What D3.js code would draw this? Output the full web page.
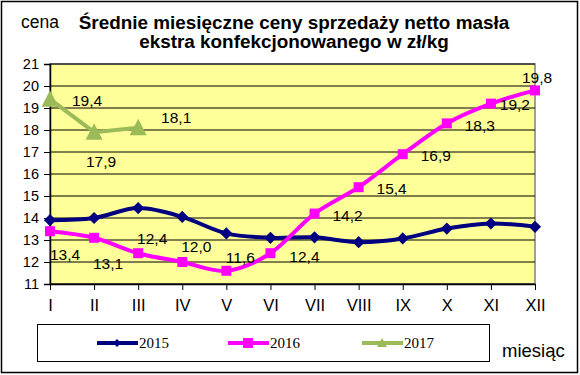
<!DOCTYPE html>
<html>
<head>
<meta charset="utf-8">
<script src="https://cdn.jsdelivr.net/npm/d3@7"></script>
<style>
  body { margin: 0; background: #fff; }
  svg { display: block; font-family: "Liberation Sans", Arial, sans-serif; }
</style>
</head>
<body>
<svg width="580" height="375"></svg>
<script>
// month categories and series values (zł/kg)
const months = ["I", "II", "III", "IV", "V", "VI", "VII", "VIII", "IX", "X", "XI", "XII"];
const values2015 = [13.9, 14.0, 14.45, 14.05, 13.3, 13.1, 13.12, 12.9, 13.07, 13.52, 13.75, 13.6];
const values2016 = [13.4, 13.1, 12.4, 12.0, 11.6, 12.4, 14.2, 15.4, 16.9, 18.3, 19.2, 19.8];
const values2017 = [19.4, 17.9, 18.1];
const labels2016 = ["13,4", "13,1", "12,4", "12,0", "11,6", "12,4", "14,2", "15,4", "16,9", "18,3", "19,2", "19,8"];
const labels2017 = ["19,4", "17,9", "18,1"];
const yTicks = [11, 12, 13, 14, 15, 16, 17, 18, 19, 20, 21];
const seriesNames = ["2015", "2016", "2017"];

window.onload = init;

function init() {
    const svg = d3.select("svg");

    // outer frame
    svg.append("rect")
        .attr("x", 1.5).attr("y", 1.5)
        .attr("width", 576).attr("height", 371)
        .attr("fill", "#fff").attr("stroke", "#000").attr("stroke-width", 1.5);

    const left = 50, right = 535, top = 64, bottom = 284;

    const x = d3.scalePoint().domain(months).range([left, right]);
    const y = d3.scaleLinear().domain([11, 21]).range([bottom, top]);

    // plot background
    svg.append("rect")
        .attr("x", left).attr("y", top)
        .attr("width", right - left).attr("height", bottom - top)
        .attr("fill", "#FFFF99")
        .attr("stroke", "#808080").attr("stroke-width", 1.5);

    // horizontal gridlines
    svg.append("g").selectAll("line")
        .data(yTicks)
        .join("line")
        .attr("x1", left).attr("x2", right)
        .attr("y1", d => y(d)).attr("y2", d => y(d))
        .attr("stroke", "#000").attr("stroke-width", 1);

    // y axis
    const yAxis = svg.append("g")
        .attr("transform", `translate(${left},0)`)
        .call(d3.axisLeft(y).tickValues(yTicks).tickSize(6).tickPadding(5));
    yAxis.select(".domain").attr("stroke", "#000").attr("stroke-width", 1.5);
    yAxis.selectAll("text").attr("font-size", "14.5px").attr("fill", "#000")
        .attr("font-family", "Liberation Sans, Arial, sans-serif");

    // x axis
    const xAxis = svg.append("g")
        .attr("transform", `translate(0,${bottom})`)
        .call(d3.axisBottom(x).tickSize(6).tickPadding(9).tickSizeOuter(0));
    xAxis.select(".domain").attr("stroke", "#000").attr("stroke-width", 1.5);
    xAxis.selectAll("text").attr("font-size", "16.5px").attr("fill", "#000")
        .attr("font-family", "Liberation Sans, Arial, sans-serif");

    const smooth = d3.line()
        .x((d, i) => x(months[i]))
        .y(d => y(d))
        .curve(d3.curveCatmullRom.alpha(0));
    const straight = d3.line()
        .x((d, i) => x(months[i]))
        .y(d => y(d));

    // 2015 series
    svg.append("path").datum(values2015)
        .attr("d", smooth).attr("fill", "none")
        .attr("stroke", "#000080").attr("stroke-width", 4);
    svg.append("g").selectAll("path")
        .data(values2015)
        .join("path")
        .attr("transform", (d, i) => `translate(${x(months[i])},${y(d)})`)
        .attr("d", d3.symbol(d3.symbolDiamond2, 95))
        .attr("fill", "#000080");

    // 2016 series
    svg.append("path").datum(values2016)
        .attr("d", smooth).attr("fill", "none")
        .attr("stroke", "#FF00FF").attr("stroke-width", 4);
    svg.append("g").selectAll("rect")
        .data(values2016)
        .join("rect")
        .attr("x", (d, i) => x(months[i]) - 5)
        .attr("y", d => y(d) - 5)
        .attr("width", 10).attr("height", 10)
        .attr("fill", "#FF00FF");

    // 2017 series
    svg.append("path").datum(values2017)
        .attr("d", straight).attr("fill", "none")
        .attr("stroke", "#9BBB59").attr("stroke-width", 4);
    svg.append("g").selectAll("path")
        .data(values2017)
        .join("path")
        .attr("d", (d, i) => {
            const cx = x(months[i]), cy = y(d);
            return `M${cx},${cy - 9}L${cx + 8.5},${cy + 7.5}L${cx - 8.5},${cy + 7.5}Z`;
        })
        .attr("fill", "#9BBB59");

    // data labels, offsets per point like the original
    const off2016 = [[15, 23], [14, 26], [14, -15], [14, -16], [14, -13], [34, 3], [33, 2], [33, 1], [33, 1], [33, 2], [24, 1], [2, -13]];
    svg.append("g").selectAll("text")
        .data(values2016)
        .join("text")
        .attr("x", (d, i) => x(months[i]) + off2016[i][0])
        .attr("y", (d, i) => y(d) + off2016[i][1])
        .attr("text-anchor", "middle")
        .attr("dominant-baseline", "central")
        .attr("font-size", "15.5px")
        .text((d, i) => labels2016[i]);

    const off2017 = [[37, 1], [7, 29], [38, -10]];
    svg.append("g").selectAll("text")
        .data(values2017)
        .join("text")
        .attr("x", (d, i) => x(months[i]) + off2017[i][0])
        .attr("y", (d, i) => y(d) + off2017[i][1])
        .attr("text-anchor", "middle")
        .attr("dominant-baseline", "central")
        .attr("font-size", "15.5px")
        .text((d, i) => labels2017[i]);

    // titles
    svg.append("text")
        .attr("x", 21).attr("y", 28)
        .attr("font-size", "17.5px")
        .text("cena");
    const title = svg.append("text")
        .attr("text-anchor", "middle")
        .attr("font-weight", "bold")
        .attr("font-size", "18.9px");
    title.append("tspan").attr("x", 294).attr("y", 29)
        .text("Średnie miesięczne ceny sprzedaży netto masła");
    title.append("tspan").attr("x", 294).attr("y", 48)
        .text("ekstra konfekcjonowanego w zł/kg");

    svg.append("text")
        .attr("x", 502).attr("y", 357)
        .attr("font-size", "18.5px")
        .text("miesiąc");

    // legend
    svg.append("rect")
        .attr("x", 37.5).attr("y", 324.5)
        .attr("width", 452).attr("height", 37)
        .attr("fill", "#fff").attr("stroke", "#000").attr("stroke-width", 1);

    const legendColors = ["#000080", "#FF00FF", "#9BBB59"];
    const legendX = [97, 228, 362];
    const legend = svg.append("g").selectAll("g")
        .data(seriesNames)
        .join("g")
        .attr("transform", (d, i) => `translate(${legendX[i]},343)`);
    legend.append("line")
        .attr("x1", 0).attr("x2", 41)
        .attr("stroke", (d, i) => legendColors[i]).attr("stroke-width", 4);
    legend.append("path")
        .attr("transform", "translate(20,0)")
        .attr("d", (d, i) => i === 0 ? d3.symbol(d3.symbolDiamond2, 40)()
            : i === 1 ? "M-5,-5H5V5H-5Z" : "M0,-5L5,4H-5Z")
        .attr("fill", (d, i) => legendColors[i]);
    legend.append("text")
        .attr("x", 42).attr("y", 0)
        .attr("dominant-baseline", "central")
        .attr("font-family", "Liberation Serif, Times New Roman, serif")
        .attr("font-size", "15px")
        .text(d => d);
}
</script>
</body>
</html>
